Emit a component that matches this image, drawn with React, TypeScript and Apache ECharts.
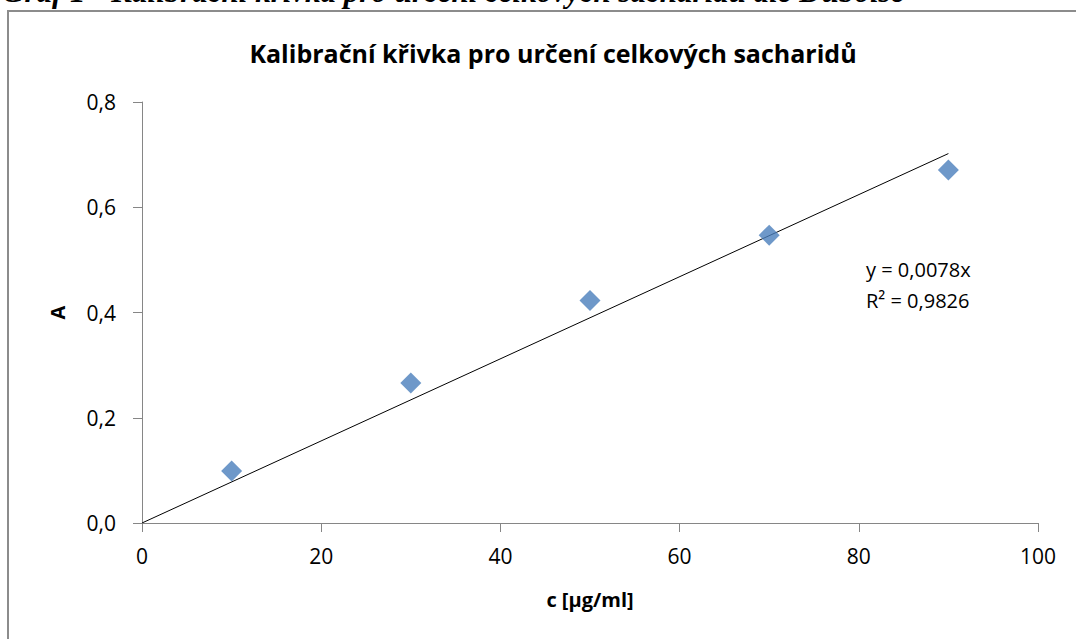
import React, { useEffect, useRef } from "react";
import * as echarts from "echarts";

const concentrations = [10, 30, 50, 70, 90];
const absorbances = [0.099, 0.266, 0.423, 0.547, 0.671];
const trendSlope = 0.0078;
const trendRange = [0, 90];
const rSquared = "0,9826";
const chartTitle = "Kalibrační křivka pro určení celkových sacharidů";
const captionText = "Graf 1 - Kalibrační křivka pro určení celkových sacharidů dle Duboise";
const xAxisName = "c [µg/ml]";
const yAxisName = "A";

const FONT = "'Open Sans', 'Noto Sans', sans-serif";

export default function App() {
  const ref = useRef<HTMLDivElement>(null);
  useEffect(() => {
    document.body.style.margin = "0";
    const chart = echarts.init(ref.current!, null, { renderer: "svg" });
    const points = concentrations.map((c, i) => [c, absorbances[i]]);
    const trend = trendRange.map((x) => [x, trendSlope * x]);
    chart.setOption({
      animation: false,
      backgroundColor: "#ffffff",
      grid: { left: 142, right: 38, top: 102, bottom: 116 },
      title: {
        text: chartTitle,
        left: 548,
        top: 35,
        textAlign: "center",
        textStyle: { fontFamily: FONT, fontSize: 25, fontWeight: "bold", color: "#000" },
      },
      graphic: [
        {
          type: "rect",
          shape: { x: 8, y: 11, width: 1100, height: 700 },
          style: { fill: "none", stroke: "#8c8c8c", lineWidth: 2 },
          silent: true,
          z: 0,
        },
        {
          type: "text",
          x: 2,
          y: 7,
          style: {
            text: captionText,
            fontFamily: "'Liberation Serif', serif",
            fontStyle: "italic",
            fontWeight: "bold",
            fontSize: 31,
            fill: "#000",
            verticalAlign: "bottom",
          },
          z: 10,
        },
        {
          type: "text",
          x: 866,
          y: 254,
          style: {
            text: "y = " + trendSlope.toString().replace(".", ",") + "x\nR² = " + rSquared,
            fontFamily: FONT,
            fontSize: 20,
            lineHeight: 31,
            fill: "#000",
          },
          z: 10,
        },
      ],
      xAxis: {
        type: "value",
        min: 0,
        max: 100,
        interval: 20,
        name: xAxisName,
        nameLocation: "middle",
        nameGap: 66,
        nameTextStyle: { fontFamily: FONT, fontSize: 20, fontWeight: "bold", color: "#000", verticalAlign: "top" },
        axisLine: { show: true, lineStyle: { color: "#868686", width: 1 } },
        axisTick: { show: true, length: 9, lineStyle: { color: "#868686" } },
        axisLabel: { fontFamily: FONT, fontSize: 21, color: "#000", margin: 22 },
        splitLine: { show: false },
      },
      yAxis: {
        type: "value",
        min: 0,
        max: 0.8,
        interval: 0.2,
        name: yAxisName,
        nameLocation: "middle",
        nameGap: 75,
        nameRotate: 90,
        nameTextStyle: { fontFamily: FONT, fontSize: 20, fontWeight: "bold", color: "#000" },
        axisLine: { show: true, lineStyle: { color: "#868686", width: 1 } },
        axisTick: { show: true, length: 9, lineStyle: { color: "#868686" } },
        axisLabel: {
          fontFamily: FONT,
          fontSize: 21,
          color: "#000",
          margin: 26,
          formatter: (v: number) => v.toFixed(1).replace(".", ","),
        },
        splitLine: { show: false },
      },
      series: [
        {
          type: "line",
          data: trend,
          symbol: "none",
          lineStyle: { color: "#000", width: 1 },
          z: 2,
        },
        {
          type: "scatter",
          data: points,
          symbol: "diamond",
          symbolSize: 21,
          itemStyle: { color: "#4A7EBB" },
          z: 3,
        },
      ],
    });
    return () => chart.dispose();
  }, []);
  return <div ref={ref} style={{ width: 1076, height: 639 }} />;
}
